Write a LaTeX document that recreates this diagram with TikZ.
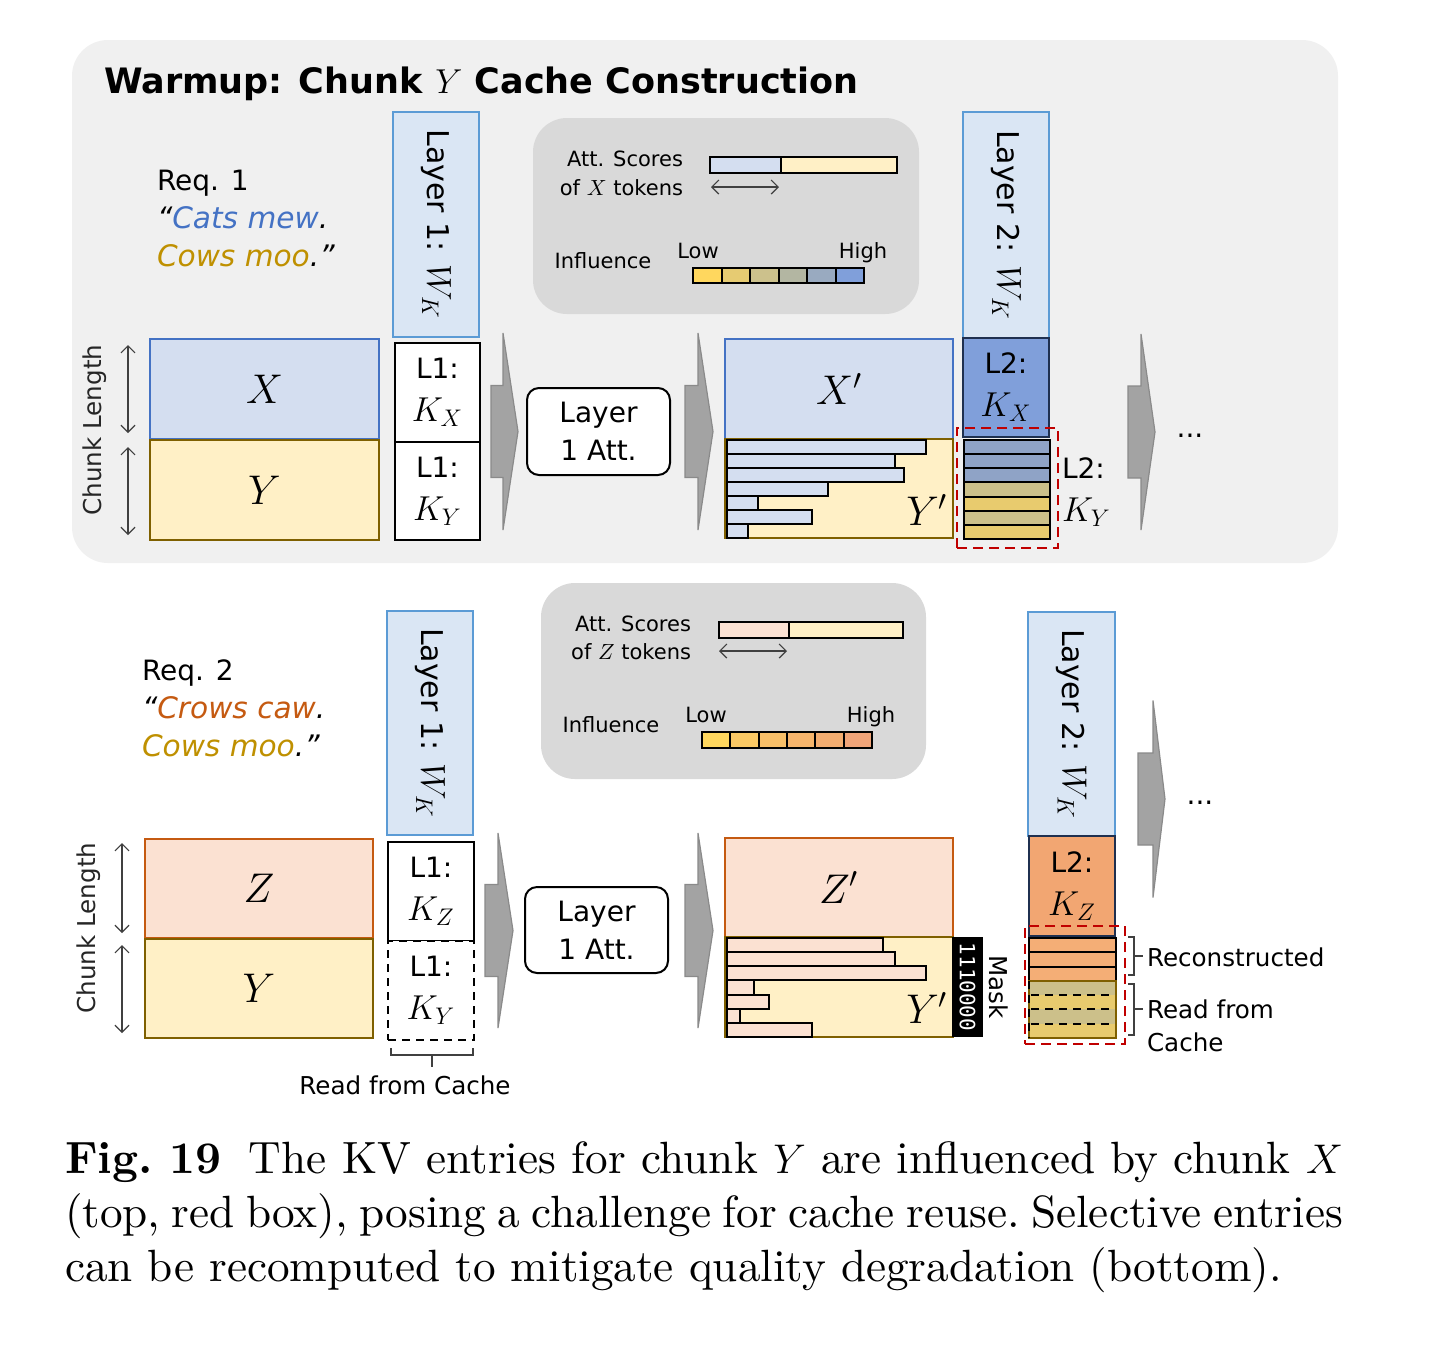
\documentclass[tikz,border=0pt]{standalone}
\usepackage{fontspec}
\usetikzlibrary{fit,arrows.meta,calc}
\newfontfamily\dv{DejaVu Sans}
\newfontfamily\dvmono{DejaVu Sans Mono}
\newfontfamily\capfont{lmroman10-regular}[Extension=.otf,BoldFont=lmroman10-bold,ItalicFont=lmroman10-italic]
\definecolor{bgtop}{HTML}{F0F0F0}
\definecolor{legbg}{HTML}{D9D9D9}
\definecolor{lblue}{HTML}{D4DEF0}
\definecolor{wblue}{HTML}{DAE6F4}
\definecolor{wbord}{HTML}{5B9BD5}
\definecolor{cbl}{HTML}{4472C4}
\definecolor{lyellow}{HTML}{FFF0C6}
\definecolor{cgoldd}{HTML}{7F6000}
\definecolor{cgold}{HTML}{BF9000}
\definecolor{corg}{HTML}{C55A11}
\definecolor{peach}{HTML}{FBE1D2}
\definecolor{navy}{HTML}{1F3050}
\definecolor{kxfill}{HTML}{809FDA}
\definecolor{kzfill}{HTML}{F2A672}
\definecolor{sb}{HTML}{8FA3C6}
\definecolor{sk}{HTML}{CCC08A}
\definecolor{sg}{HTML}{E8CB6E}
\definecolor{sor}{HTML}{F4AE76}
\definecolor{cred}{HTML}{C00000}
\definecolor{garf}{HTML}{A3A3A3}
\definecolor{gard}{HTML}{8A8A8A}
\definecolor{dgray}{HTML}{404040}
\definecolor{iA}{HTML}{FFD75E}
\definecolor{iB}{HTML}{E6CB72}
\definecolor{iC}{HTML}{CCC18C}
\definecolor{iD}{HTML}{B3B6A2}
\definecolor{iE}{HTML}{99AAC0}
\definecolor{iF}{HTML}{809FDA}
\definecolor{jA}{HTML}{FFD75E}
\definecolor{jB}{HTML}{FBC964}
\definecolor{jC}{HTML}{F8BF68}
\definecolor{jD}{HTML}{F6B56C}
\definecolor{jE}{HTML}{F3AD70}
\definecolor{jF}{HTML}{F0A478}
\newcommand\fTitle{\dv\bfseries\fontsize{17.5}{21}\selectfont}
\newcommand\fReq{\dv\fontsize{14}{17}\selectfont}
\newcommand\fReqi{\dv\itshape\fontsize{14.8}{17}\selectfont}
\newcommand\fLay{\dv\fontsize{15}{18}\selectfont}
\newcommand\fBox{\dv\fontsize{14}{21.5}\selectfont}
\newcommand\fAtt{\dv\fontsize{14}{19}\selectfont}
\newcommand\fLeg{\dv\fontsize{10.5}{13}\selectfont}
\newcommand\fLab{\dv\fontsize{12.3}{16.5}\selectfont}
\newcommand\fBig{\dv\fontsize{20}{24}\selectfont}
\newcommand\fCap{\capfont\fontsize{22.6}{27}\selectfont\frenchspacing\hyphenpenalty=10000\exhyphenpenalty=10000 }
\newcommand\mK[1]{{\fontsize{16.5}{20}\selectfont$K_#1$}}
\newcommand\mW{{\fontsize{18}{20}\selectfont$W_K$}}
\newcommand\garrow[6]{%
  \draw[garst] ({#1},{#4-#5}) -- ({#2},{#4-#5}) -- ({#2},{#4-#6}) -- ({#3},{#4}) -- ({#2},{#4+#6}) -- ({#2},{#4+#5}) -- ({#1},{#4+#5}) -- cycle;}
\begin{document}
\begin{tikzpicture}[x=0.5pt,y=-0.5pt,font=\dv,
  fbox/.style={draw, line width=1pt, inner sep=0pt, outer sep=0pt},
  lbl/.style={inner sep=0pt, outer sep=0pt},
  garst/.style={fill=garf, draw=gard, line width=0.6pt, line join=miter},
  dbl/.style={{Straight Barb[length=3.5pt,width=7pt]}-{Straight Barb[length=3.5pt,width=7pt]}, line width=0.6pt, draw=dgray},
  reddash/.style={draw=cred, line width=1.1pt, dash pattern=on 5pt off 3pt, inner sep=0pt, outer sep=0pt},
  bar/.style={draw=black, line width=1pt},
  brk/.style={draw=dgray, line width=0.6pt}]
\useasboundingbox (0,0) rectangle (1446,1346);
\fill[white] (0,0) rectangle (1446,1346);
% ===== top panel =====
\node[fit={(72,40) (1338,563)}, fill=bgtop, rounded corners=18pt, inner sep=0pt] (panel) {};
\node[lbl, anchor=base west, font=\fTitle] (title) at (104,93) {Warmup: Chunk \textmd{$Y$} Cache Construction};
\node[lbl, anchor=base west, font=\fReq] (r1a) at (157,190) {Req. 1};
\node[lbl, anchor=base west, font=\fReqi] (r1b) at (157,228) {“\textcolor{cbl}{Cats mew}.};
\node[lbl, anchor=base west, font=\fReqi] (r1c) at (157,266) {\textcolor{cgold}{Cows moo}.”};
% layer 1 weights
\node[fbox, draw=wbord, fill=wblue, fit={(393,112) (479,337)}] (w1) {};
\node[lbl, rotate=-90, font=\fLay] (w1t) at (w1.center) {Layer 1: \mW};
% X / Y
\node[fbox, draw=cbl, fill=lblue, fit={(150,339) (379,439)}] (X) {};
\node[lbl, font=\fBig] (Xt) at (X.center) {$X$};
\node[fbox, draw=cgoldd, fill=lyellow, fit={(150,440) (379,540)}] (Y) {};
\node[lbl, font=\fBig] (Yt) at (Y.center) {$Y$};
\node[lbl, rotate=90, font=\fLab, text=black!85] (cl1) at (95,430) {Chunk Length};
\coordinate (ca1) at (128,345); \coordinate (cb1) at (128,433);
\coordinate (ca2) at (128,447); \coordinate (cb2) at (128,535);
\draw[dbl] (ca1) -- (cb1);
\draw[dbl] (ca2) -- (cb2);
% L1 keys
\node[fbox, fill=white, fit={(395,343) (480,442)}] (l1kx) {};
\node[lbl, font=\fBox, align=center] (l1kxt) at (l1kx.center) {L1:\\\mK{X}};
\node[fbox, fill=white, fit={(395,442) (480,540)}] (l1ky) {};
\node[lbl, font=\fBox, align=center] (l1kyt) at (l1ky.center) {L1:\\\mK{Y}};
\garrow{491}{503}{518}{431.5}{46}{98.5}
\node[fbox, fill=white, rounded corners=6pt, fit={(527,388) (670,475)}] (att1) {};
\node[lbl, font=\fAtt, align=center] (att1t) at (att1.center) {Layer\\1 Att.};
\garrow{685}{698}{713}{431.5}{46}{98.5}
% legend 1
\node[fit={(533,118) (919,314)}, fill=legbg, rounded corners=17pt, inner sep=0pt] (leg1) {};
\node[lbl, anchor=base east, font=\fLeg] (l1s1) at (683,166) {Att. Scores};
\node[lbl, anchor=base east, font=\fLeg] (l1s2) at (683,195) {of $X$ tokens};
\node[fbox, fill=lblue, fit={(710,157) (781,173)}] (sc1a) {};
\node[fbox, fill=lyellow, fit={(781,157) (897,173)}] (sc1b) {};
\coordinate (sa1) at (711,187); \coordinate (sb1) at (779,187);
\draw[dbl] (sa1) -- (sb1);
\node[lbl, anchor=base, font=\fLeg] (inf1) at (603,268) {Influence};
\node[lbl, anchor=base, font=\fLeg] (low1) at (698,258) {Low};
\node[lbl, anchor=base, font=\fLeg] (high1) at (863,258) {High};
\foreach \c [count=\i from 0] in {iA,iB,iC,iD,iE,iF}
  \node[fbox, fill=\c, fit={({693+\i*28.5},268) ({693+(\i+1)*28.5},283)}] (ic\i) {};
% X' / Y'
\node[fbox, draw=cbl, fill=lblue, fit={(725,339) (953,439)}] (Xp) {};
\node[lbl, font=\fBig] (Xpt) at (Xp.center) {$X'$};
\node[fbox, draw=cgoldd, fill=lyellow, fit={(725,439) (953,538)}] (Yp) {};
\foreach \e [count=\i from 0] in {926,895,904,828,758,812,748}
  \draw[bar, fill=lblue] (727,{440+\i*14}) rectangle (\e,{440+(\i+1)*14});
\node[lbl, font=\fBig] (Ypt) at (927,510) {$Y'$};
% layer 2
\node[fbox, draw=wbord, fill=wblue, fit={(963,112) (1049,338)}] (w2) {};
\node[lbl, rotate=-90, font=\fLay] (w2t) at (w2.center) {Layer 2: \mW};
\node[fbox, draw=navy, fill=kxfill, fit={(963,338) (1049,437)}] (l2kx) {};
\node[lbl, font=\fBox, align=center] (l2kxt) at (l2kx.center) {L2:\\\mK{X}};
\foreach \c [count=\i from 0] in {sb,sb,sb,sk,sg,sk,sg}
  \draw[bar, fill=\c] (964,{440+\i*14.14}) rectangle (1050,{440+(\i+1)*14.14});
\node[reddash, fit={(957,428) (1058,548)}] (red1) {};
\node[lbl, anchor=west, font=\fBox, align=left] (l2ky) at (1062,492) {L2:\\\mK{Y}};
\garrow{1128}{1141}{1155}{432}{46}{98}
\node[lbl, font=\fReq] (dots1) at (1190,436) {...};
% ===== bottom =====
\node[lbl, anchor=base west, font=\fReq] (r2a) at (142,680) {Req. 2};
\node[lbl, anchor=base west, font=\fReqi] (r2b) at (142,718) {“\textcolor{corg}{Crows caw}.};
\node[lbl, anchor=base west, font=\fReqi] (r2c) at (142,756) {\textcolor{cgold}{Cows moo}.”};
\node[fbox, draw=wbord, fill=wblue, fit={(387,611) (473,835)}] (w3) {};
\node[lbl, rotate=-90, font=\fLay] (w3t) at (w3.center) {Layer 1: \mW};
\node[fbox, draw=corg, fill=peach, fit={(145,839) (373,938)}] (Z) {};
\node[lbl, font=\fBig] (Zt) at (Z.center) {$Z$};
\node[fbox, draw=cgoldd, fill=lyellow, fit={(145,939) (373,1038)}] (Y2) {};
\node[lbl, font=\fBig] (Y2t) at (Y2.center) {$Y$};
\node[lbl, rotate=90, font=\fLab, text=black!85] (cl2) at (89,928) {Chunk Length};
\coordinate (ca3) at (122,843); \coordinate (cb3) at (122,933);
\coordinate (ca4) at (122,945); \coordinate (cb4) at (122,1033);
\draw[dbl] (ca3) -- (cb3);
\draw[dbl] (ca4) -- (cb4);
\node[fbox, fill=white, fit={(388,842) (474,941)}] (l1kz) {};
\node[lbl, font=\fBox, align=center] (l1kzt) at (l1kz.center) {L1:\\\mK{Z}};
\node[fbox, fill=white, dash pattern=on 4pt off 3pt, fit={(388,941) (474,1040)}] (l1ky2) {};
\node[lbl, font=\fBox, align=center] (l1ky2t) at (l1ky2.center) {L1:\\\mK{Y}};
\coordinate (bk1) at (391,1048); \coordinate (bk2) at (473,1048);
\draw[brk] (bk1) -- ($(bk1)+(0,7)$) -- ($(bk2)+(0,7)$) -- (bk2);
\draw[brk] (432,1055) -- (432,1067);
\node[lbl, font=\fLab] (rfc1) at (405,1085) {Read from Cache};
\garrow{485}{498}{513}{930.5}{46}{97.5}
\node[fbox, fill=white, rounded corners=6pt, fit={(525,887) (668,973)}] (att2) {};
\node[lbl, font=\fAtt, align=center] (att2t) at (att2.center) {Layer\\1 Att.};
\garrow{685}{698}{713}{930.5}{46}{97.5}
% legend 2
\node[fit={(541,583) (926,779)}, fill=legbg, rounded corners=17pt, inner sep=0pt] (leg2) {};
\node[lbl, anchor=base east, font=\fLeg] (l2s1) at (691,631) {Att. Scores};
\node[lbl, anchor=base east, font=\fLeg] (l2s2) at (691,659) {of $Z$ tokens};
\node[fbox, fill=peach, fit={(719,622) (789,638)}] (sc2a) {};
\node[fbox, fill=lyellow, fit={(789,622) (903,638)}] (sc2b) {};
\coordinate (sa2) at (719,651); \coordinate (sb2) at (787,651);
\draw[dbl] (sa2) -- (sb2);
\node[lbl, anchor=base, font=\fLeg] (inf2) at (611,732) {Influence};
\node[lbl, anchor=base, font=\fLeg] (low2) at (706,722) {Low};
\node[lbl, anchor=base, font=\fLeg] (high2) at (871,722) {High};
\foreach \c [count=\i from 0] in {jA,jB,jC,jD,jE,jF}
  \node[fbox, fill=\c, fit={({702+\i*28.33},732) ({702+(\i+1)*28.33},748)}] (jc\i) {};
% Z' / Y'
\node[fbox, draw=corg, fill=peach, fit={(725,838) (953,937)}] (Zp) {};
\node[lbl, font=\fBig] (Zpt) at (Zp.center) {$Z'$};
\node[fbox, draw=cgoldd, fill=lyellow, fit={(725,937) (953,1037)}] (Yp2) {};
\foreach \e [count=\i from 0] in {883,895,926,754,769,740,812}
  \draw[bar, fill=peach] (727,{938+\i*14.14}) rectangle (\e,{938+(\i+1)*14.14});
\node[lbl, font=\fBig] (Ypt2) at (927,1008) {$Y'$};
\node[fit={(952,937) (983,1037)}, fill=black, inner sep=0pt] (mask) {};
\node[lbl, rotate=-90, font=\dvmono\fontsize{10.5}{12}\selectfont, text=white] (maskt) at (mask.center) {1110000};
\node[lbl, rotate=-90, font=\fLab] (maskl) at (999,987) {Mask};
% layer 2 bottom
\node[fbox, draw=wbord, fill=wblue, fit={(1028,612) (1115,836)}] (w4) {};
\node[lbl, rotate=-90, font=\fLay] (w4t) at (w4.center) {Layer 2: \mW};
\node[fbox, draw=navy, fill=kzfill, fit={(1029,836) (1115,936)}] (l2kz) {};
\node[lbl, font=\fBox, align=center] (l2kzt) at (l2kz.center) {L2:\\\mK{Z}};
\foreach \i in {0,1,2}
  \draw[bar, fill=sor] (1029,{938+\i*14.29}) rectangle (1116,{938+(\i+1)*14.29});
\foreach \c [count=\i from 3] in {sk,sg,sk,sg}
  \fill[\c] (1029,{938+\i*14.29}) rectangle (1116,{938+(\i+1)*14.29});
\draw[cgoldd, line width=1pt] (1029,{938+3*14.29}) rectangle (1116,1038);
\foreach \i in {4,5,6}
  \draw[black, line width=1pt, dash pattern=on 4pt off 3pt] (1031,{938+\i*14.29}) -- (1114,{938+\i*14.29});
\draw[black, line width=1pt, dash pattern=on 4pt off 3pt] (1029,981) -- (1029,1038);
\node[reddash, fit={(1025,926) (1125,1044)}] (red2) {};
\draw[brk] (1128,937) -- (1134,937) -- (1134,975) -- (1128,975);
\draw[brk] (1134,956) -- (1143,956);
\draw[brk] (1128,984) -- (1134,984) -- (1134,1035) -- (1128,1035);
\draw[brk] (1134,1009) -- (1143,1009);
\node[lbl, anchor=west, font=\fLab] (recon) at (1147,957) {Reconstructed};
\node[lbl, anchor=west, font=\fLab] (rfc2a) at (1147,1009) {Read from};
\node[lbl, anchor=west, font=\fLab] (rfc2b) at (1147,1042) {Cache};
\garrow{1138}{1153}{1165}{799}{46}{98.5}
\node[lbl, font=\fReq] (dots2) at (1200,803) {...};
% ===== caption =====
\node[lbl, anchor=north west, text width=639pt, align=justify, font=\fCap] (cap) at (65,1142)
  {\mbox{\textbf{Fig. 19}}\hspace{0.6em}The KV entries for chunk $Y$ are influenced by chunk $X$\linebreak
   (top, red box), posing a challenge for cache reuse. Selective entries\linebreak
   can be recomputed to mitigate quality degradation (bottom).};
\end{tikzpicture}
\end{document}
